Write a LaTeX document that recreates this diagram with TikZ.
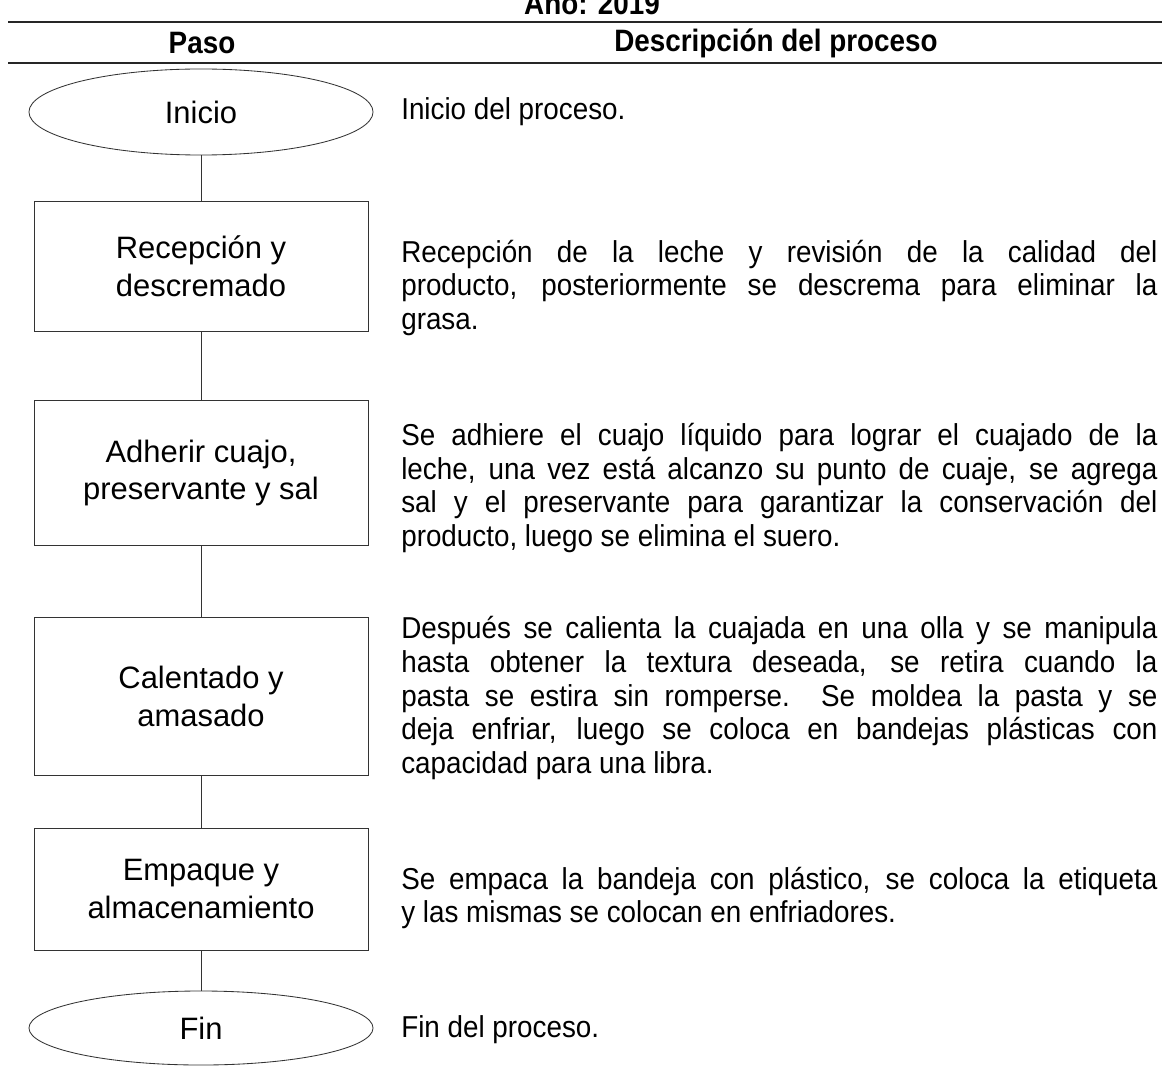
\documentclass[tikz,border=0pt]{standalone}
\usepackage{fontspec}
\setmainfont{Liberation Sans}
\newfontfamily\descfont[FakeStretch=0.92]{Liberation Sans}
\newfontfamily\headfont[FakeStretch=0.9]{Liberation Sans}
\usetikzlibrary{shapes.geometric}
\begin{document}
\begin{tikzpicture}[x=0.025cm, y=-0.025cm,
  stepbox/.style={rectangle, draw=black!80, line width=0.6pt, minimum width=8.35cm, align=center, font=\fontsize{22}{27}\selectfont},
  terminal/.style={ellipse, draw=black!80, line width=0.6pt, minimum width=8.6cm, align=center, font=\fontsize{22}{27}\selectfont},
  desc/.style={anchor=west, inner sep=0pt, text width=18.9cm, align=justify, font=\descfont\fontsize{21.5}{24.1}\selectfont},
  head/.style={font=\headfont\bfseries\fontsize{22}{26}\selectfont},
  link/.style={draw=black!80, line width=0.6pt}]
\useasboundingbox (0,0) rectangle (1162,1076);
% table header
\node (year) at (592,15) [head, anchor=base] {Año: 2019};
\node (paso) at (202,43) [head] {Paso};
\node (descrip) at (776,43) [head] {Descripción del proceso};
\draw [line width=0.8pt, black!85] (8,22) -- (1162,22);
\draw [line width=0.8pt, black!85] (8,63) -- (1162,63);
% steps
\node (inicio) at (201,112) [terminal, minimum height=2.15cm] {Inicio};
\node (recep) at (201,266) [stepbox, minimum height=3.25cm] {Recepción y\\descremado};
\node (adherir) at (201,473) [stepbox, minimum height=3.62cm] {Adherir cuajo,\\preservante y sal};
\node (calent) at (201,696) [stepbox, minimum height=3.95cm] {Calentado y\\amasado};
\node (empaque) at (201,889) [stepbox, minimum height=3.05cm] {Empaque y\\almacenamiento};
\node (fin) at (201,1028) [terminal, minimum height=1.85cm] {Fin};
\draw [link] (inicio) edge (recep) (recep) edge (adherir) (adherir) edge (calent) (calent) edge (empaque) (empaque) edge (fin);
% descriptions
\node (dinicio) at (401,112) [desc] {Inicio del proceso.};
\node (drecep) at (401,288) [desc] {Recepción de la leche y revisión de la calidad del\linebreak producto, posteriormente se descrema para eliminar la\linebreak grasa.};
\node (dadherir) at (401,488) [desc] {Se adhiere el cuajo líquido para lograr el cuajado de la\linebreak leche, una vez está alcanzo su punto de cuaje, se agrega\linebreak sal y el preservante para garantizar la conservación del\linebreak producto, luego se elimina el suero.};
\node (dcalent) at (401,698) [desc] {Después se calienta la cuajada en una olla y se manipula\linebreak hasta obtener la textura deseada, se retira cuando la\linebreak pasta se estira sin romperse.\ \ Se moldea la pasta y se\linebreak deja enfriar, luego se coloca en bandejas plásticas con\linebreak capacidad para una libra.};
\node (dempaque) at (401,898) [desc] {Se empaca la bandeja con plástico, se coloca la etiqueta\linebreak y las mismas se colocan en enfriadores.};
\node (dfin) at (401,1030) [desc] {Fin del proceso.};
\end{tikzpicture}
\end{document}
